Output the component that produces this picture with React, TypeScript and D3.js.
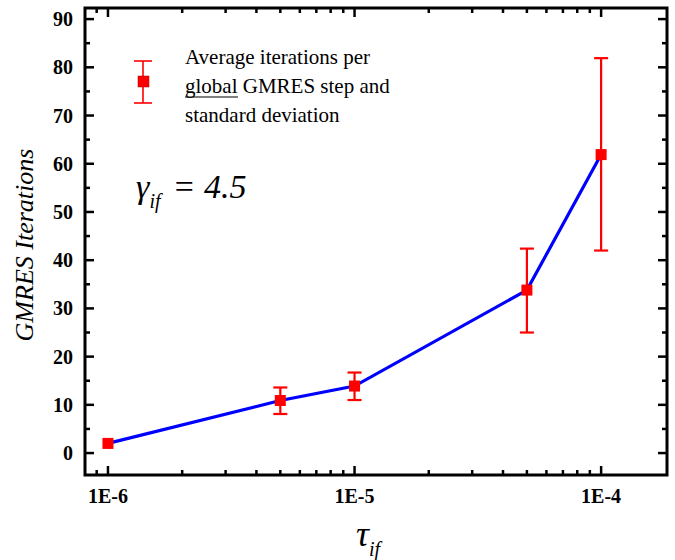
import React from "react";
import * as d3 from "d3";

const tauValues = [1e-6, 5e-6, 1e-5, 5e-5, 1e-4];
const meanIters = [2, 10.9, 13.9, 33.8, 61.9];
const errLow = [2, 8.1, 11, 25, 42];
const errHigh = [2, 13.6, 16.7, 42.4, 81.9];
const yTickValues = [0, 10, 20, 30, 40, 50, 60, 70, 80, 90];
const xMajorTicks = [1e-6, 1e-5, 1e-4];
const xTickLabels = ["1E-6", "1E-5", "1E-4"];
const legendLines = ["Average iterations per", "GMRES step and", "standard deviation"];

const W = 675, H = 560;
const left = 85, right = 667, top = 8, bottom = 475;

export default function App() {
  const x = d3.scaleLog().domain([8.07e-7, 1.85e-4]).range([left, right]);
  const y = d3.scaleLinear().domain([-4.55, 92.3]).range([bottom, top]);
  const minorX: number[] = [];
  for (let e = -7; e <= -4; e++) {
    for (let m = 1; m <= 9; m++) {
      const v = m * Math.pow(10, e);
      if (v >= 8.07e-7 && v <= 1.85e-4) minorX.push(v);
    }
  }
  const minorY: number[] = [];
  for (let v = 5; v <= 90; v += 10) minorY.push(v);
  const line = d3.line<number>().x((_, i) => x(tauValues[i])).y((d) => y(d));
  const serif = "Liberation Serif";
  const red = "#ff0000";
  const sq = 11;
  const cap = 7;
  return (
    <svg width={W} height={H} style={{ position: "absolute", left: 0, top: 0, background: "#fff" }}>
      <rect x={0} y={0} width={W} height={H} fill="#fff" />
      {minorX.map((v, i) => {
        const isMajor = xMajorTicks.some((m) => Math.abs(m - v) / m < 1e-6);
        const len = isMajor ? 9 : 5;
        return (
          <g key={"xt" + i} stroke="#000" strokeWidth={2.5}>
            <line x1={x(v)} x2={x(v)} y1={bottom} y2={bottom - len} />
            <line x1={x(v)} x2={x(v)} y1={top} y2={top + len} />
          </g>
        );
      })}
      {yTickValues.map((v, i) => (
        <g key={"yt" + i} stroke="#000" strokeWidth={2.5}>
          <line x1={left} x2={left + 9} y1={y(v)} y2={y(v)} />
          <line x1={right} x2={right - 9} y1={y(v)} y2={y(v)} />
        </g>
      ))}
      {minorY.map((v, i) => (
        <g key={"ym" + i} stroke="#000" strokeWidth={2.5}>
          <line x1={left} x2={left + 5} y1={y(v)} y2={y(v)} />
          <line x1={right} x2={right - 5} y1={y(v)} y2={y(v)} />
        </g>
      ))}
      <rect x={left} y={top} width={right - left} height={bottom - top} fill="none" stroke="#000" strokeWidth={3} />
      {yTickValues.map((v, i) => (
        <text key={"yl" + i} x={73} y={y(v)} dy="0.35em" textAnchor="end" fontFamily={serif} fontWeight="bold" fontSize={20}>
          {v}
        </text>
      ))}
      {xMajorTicks.map((v, i) => (
        <text key={"xl" + i} x={x(v)} y={503} textAnchor="middle" fontFamily={serif} fontWeight="bold" fontSize={20}>
          {xTickLabels[i]}
        </text>
      ))}
      <text transform={`translate(33,${245}) rotate(-90)`} textAnchor="middle" fontFamily={serif} fontStyle="italic" fontSize={26}>
        GMRES Iterations
      </text>
      <text x={356} y={546} fontFamily={serif} fontStyle="italic" fontSize={36}>
        τ
        <tspan fontSize={20} dy={10}>if</tspan>
      </text>
      <path d={line(meanIters) || ""} fill="none" stroke="#0000ff" strokeWidth={3.2} />
      {tauValues.map((t, i) => (
        errHigh[i] - errLow[i] > 0.5 ? (
          <g key={"eb" + i} stroke={red} strokeWidth={2.2}>
            <line x1={x(t)} x2={x(t)} y1={y(errLow[i])} y2={y(errHigh[i])} />
            <line x1={x(t) - cap} x2={x(t) + cap} y1={y(errLow[i])} y2={y(errLow[i])} />
            <line x1={x(t) - cap} x2={x(t) + cap} y1={y(errHigh[i])} y2={y(errHigh[i])} />
          </g>
        ) : null
      ))}
      {tauValues.map((t, i) => (
        <rect key={"pt" + i} x={x(t) - sq / 2} y={y(meanIters[i]) - sq / 2} width={sq} height={sq} fill={red} />
      ))}
      <g stroke={red} strokeWidth={1.6}>
        <line x1={143} x2={143} y1={61} y2={103} />
        <line x1={134} x2={152} y1={61} y2={61} />
        <line x1={134} x2={152} y1={103} y2={103} />
      </g>
      <rect x={138} y={76} width={11} height={11} fill={red} stroke="#b00000" strokeWidth={0.5} />
      <text x={185} y={64} fontFamily={serif} fontSize={21}>{legendLines[0]}</text>
      <text x={185} y={93} fontFamily={serif} fontSize={21}>
        global {legendLines[1]}
      </text>
      <line x1={185} x2={238} y1={97} y2={97} stroke="#000" strokeWidth={1.2} />
      <text x={185} y={122} fontFamily={serif} fontSize={21}>{legendLines[2]}</text>
      <text x={136} y={198} fontFamily={serif} fontStyle="italic" fontSize={34}>
        γ
        <tspan fontSize={20} dy={10}>if</tspan>
        <tspan dy={-10} dx={12}>= 4.5</tspan>
      </text>
    </svg>
  );
}
